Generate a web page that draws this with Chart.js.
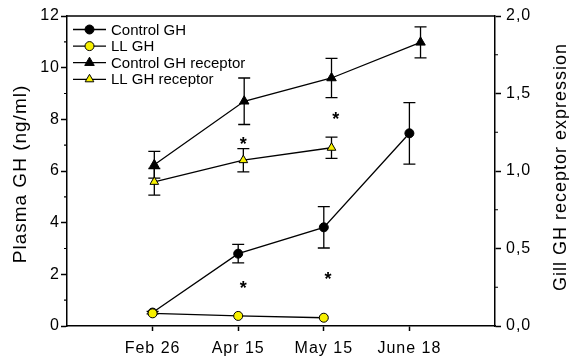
<!DOCTYPE html>
<html>
<head>
<meta charset="utf-8">
<title>Plasma GH and gill GH receptor expression</title>
<script src="https://cdn.jsdelivr.net/npm/chart.js"></script>
<style>
  body { margin: 0; background: #fff; }
  canvas { display: block; }
</style>
</head>
<body>
<canvas id="ghChart" width="569" height="360"></canvas>
<script>
// sampling dates, placed at x = 1..4 on a linear axis
const dates = ['Feb 26', 'Apr 15', 'May 15', 'June 18'];

// plasma GH (ng/ml), left axis
const controlGhX = [1, 2, 3, 4];
const controlGh = [0.52, 2.8, 3.82, 7.46];
const controlGhErr = [0.05, 0.36, 0.8, 1.19];
const llGhX = [1, 2, 3];
const llGh = [0.49, 0.39, 0.32];
const llGhErr = [0, 0, 0];

// gill GH receptor expression, right axis
const controlRecX = [1.02, 2.07, 3.09, 4.13];
const controlRec = [1.04, 1.45, 1.6, 1.83];
const controlRecErr = [0.086, 0.15, 0.127, 0.1];
const llRecX = [1.02, 2.06, 3.09];
const llRec = [0.93, 1.07, 1.15];
const llRecErr = [0.086, 0.075, 0.068];

// significance marks, in plasma GH units
const starX = [2.06, 2.06, 3.05, 3.14];
const starY = [1.61, 7.2, 1.95, 8.16];

const FONT = '"Liberation Sans", Arial, Helvetica, sans-serif';
const YELLOW = '#f7f000';

function pts(xs, ys) {
    return xs.map((x, i) => ({ x: x, y: ys[i] }));
}

// error bars, minor ticks, frame top, legend, axis titles and asterisks
const decor = {
    id: 'decor',
    beforeDraw(chart) {
        // slightly looser lettering for the tick labels
        chart.ctx.letterSpacing = '1px';
    },
    beforeDatasetsDraw(chart) {
        const ctx = chart.ctx;
        ctx.save();
        ctx.strokeStyle = '#000';
        ctx.lineWidth = 1.3;
        chart.data.datasets.forEach((ds, i) => {
            const meta = chart.getDatasetMeta(i);
            const ys = chart.scales[ds.yAxisID];
            meta.data.forEach((p, j) => {
                const e = ds.errors[j];
                if (!e) return;
                const v = ds.data[j].y;
                const top = ys.getPixelForValue(v + e);
                const bot = ys.getPixelForValue(v - e);
                ctx.beginPath();
                ctx.moveTo(p.x, top); ctx.lineTo(p.x, bot);
                ctx.moveTo(p.x - 6, top); ctx.lineTo(p.x + 6, top);
                ctx.moveTo(p.x - 6, bot); ctx.lineTo(p.x + 6, bot);
                ctx.stroke();
            });
        });
        ctx.restore();
    },
    afterDraw(chart) {
        const ctx = chart.ctx;
        const a = chart.chartArea;
        const yl = chart.scales.y, yr = chart.scales.y1, xs = chart.scales.x;
        ctx.save();
        ctx.strokeStyle = '#000';
        ctx.lineWidth = 1.5;
        // top edge of the frame
        ctx.beginPath();
        ctx.moveTo(a.left, a.top); ctx.lineTo(a.right, a.top);
        ctx.stroke();
        // minor ticks
        ctx.lineWidth = 1.2;
        ctx.beginPath();
        for (let v = 1; v < 12; v += 2) {
            const py = yl.getPixelForValue(v);
            ctx.moveTo(a.left, py); ctx.lineTo(a.left - 3, py);
        }
        for (let v = 0.25; v < 2; v += 0.5) {
            const py = yr.getPixelForValue(v);
            ctx.moveTo(a.right, py); ctx.lineTo(a.right + 3, py);
        }
        ctx.stroke();

        // asterisks
        ctx.letterSpacing = '0px';
        ctx.fillStyle = '#000';
        ctx.font = 'bold 18px ' + FONT;
        ctx.textAlign = 'center';
        ctx.textBaseline = 'alphabetic';
        const m = ctx.measureText('*');
        const off = (m.actualBoundingBoxAscent - m.actualBoundingBoxDescent) / 2;
        starX.forEach((x, i) => {
            ctx.fillText('*', xs.getPixelForValue(x), yl.getPixelForValue(starY[i]) + off);
        });

        // legend
        ctx.font = '15px ' + FONT;
        ctx.textAlign = 'left';
        ctx.textBaseline = 'middle';
        chart.data.datasets.forEach((ds, i) => {
            const ly = 29.5 + i * 16.6;
            ctx.strokeStyle = '#000';
            ctx.lineWidth = 1.3;
            ctx.beginPath();
            ctx.moveTo(73, ly); ctx.lineTo(106, ly);
            ctx.stroke();
            ctx.fillStyle = ds.pointBackgroundColor;
            ctx.lineWidth = ds.pointBorderWidth;
            Chart.helpers.drawPoint(ctx, {
                pointStyle: ds.pointStyle,
                radius: ds.pointRadius,
                rotation: 0,
                borderWidth: ds.pointBorderWidth
            }, 89.5, ly);
            ctx.fillStyle = '#000';
            ctx.fillText(ds.label, 111, ly + 1);
        });

        // axis titles, both reading bottom to top
        ctx.letterSpacing = '1px';
        ctx.textAlign = 'center';
        ctx.textBaseline = 'alphabetic';
        ctx.save();
        ctx.font = '19px ' + FONT;
        ctx.translate(26, 174);
        ctx.rotate(-Math.PI / 2);
        ctx.fillText('Plasma GH (ng/ml)', 0, 0);
        ctx.restore();
        ctx.save();
        ctx.font = '18px ' + FONT;
        ctx.translate(566, 167);
        ctx.rotate(-Math.PI / 2);
        ctx.fillText('Gill GH receptor expression', 0, 0);
        ctx.restore();
        ctx.restore();
    }
};

const axisLine = { display: true, color: '#000', width: 1.5 };

new Chart(document.getElementById('ghChart'), {
    type: 'line',
    data: {
        datasets: [{
            label: 'Control GH',
            data: pts(controlGhX, controlGh),
            errors: controlGhErr,
            yAxisID: 'y',
            order: 2,
            borderColor: '#000',
            borderWidth: 1.3,
            pointStyle: 'circle',
            pointRadius: 4.5,
            pointBackgroundColor: '#000',
            pointBorderColor: '#000',
            pointBorderWidth: 1
        }, {
            label: 'LL GH',
            data: pts(llGhX, llGh),
            errors: llGhErr,
            yAxisID: 'y',
            order: 1,
            borderColor: '#000',
            borderWidth: 1.3,
            pointStyle: 'circle',
            pointRadius: 4.5,
            pointBackgroundColor: YELLOW,
            pointBorderColor: '#000',
            pointBorderWidth: 1
        }, {
            label: 'Control GH receptor',
            data: pts(controlRecX, controlRec),
            errors: controlRecErr,
            yAxisID: 'y1',
            order: 4,
            borderColor: '#000',
            borderWidth: 1.3,
            pointStyle: 'triangle',
            pointRadius: 5.5,
            pointBackgroundColor: '#000',
            pointBorderColor: '#000',
            pointBorderWidth: 1
        }, {
            label: 'LL GH receptor',
            data: pts(llRecX, llRec),
            errors: llRecErr,
            yAxisID: 'y1',
            order: 3,
            borderColor: '#000',
            borderWidth: 1.3,
            pointStyle: 'triangle',
            pointRadius: 5,
            pointBackgroundColor: YELLOW,
            pointBorderColor: '#000',
            pointBorderWidth: 1
        }]
    },
    options: {
        responsive: false,
        animation: false,
        layout: { padding: { top: 16, left: 0, right: 0, bottom: 0 } },
        plugins: { legend: { display: false }, tooltip: { enabled: false } },
        scales: {
            x: {
                type: 'linear',
                min: 0,
                max: 5,
                afterBuildTicks(scale) {
                    scale.ticks = dates.map((d, i) => ({ value: i + 1 }));
                },
                afterFit(scale) { scale.height = 34; },
                border: axisLine,
                grid: { drawOnChartArea: false, tickLength: 5, tickColor: '#000', tickWidth: 1.5 },
                ticks: {
                    autoSkip: false,
                    maxRotation: 0,
                    padding: 8,
                    color: '#000',
                    font: { family: FONT, size: 16 },
                    callback: v => dates[v - 1]
                }
            },
            y: {
                position: 'left',
                min: 0,
                max: 12,
                afterFit(scale) { scale.width = 67; },
                border: axisLine,
                grid: { drawOnChartArea: false, tickLength: 6, tickColor: '#000', tickWidth: 1.5 },
                ticks: {
                    stepSize: 2,
                    padding: 1,
                    color: '#000',
                    font: { family: FONT, size: 16 }
                }
            },
            y1: {
                position: 'right',
                min: 0,
                max: 2,
                afterFit(scale) { scale.width = 74; },
                border: axisLine,
                grid: { drawOnChartArea: false, tickLength: 6, tickColor: '#000', tickWidth: 1.5 },
                ticks: {
                    stepSize: 0.5,
                    padding: 5,
                    color: '#000',
                    font: { family: FONT, size: 16 },
                    callback: v => v.toFixed(1).replace('.', ',')
                }
            }
        }
    },
    plugins: [decor]
});
</script>
</body>
</html>
